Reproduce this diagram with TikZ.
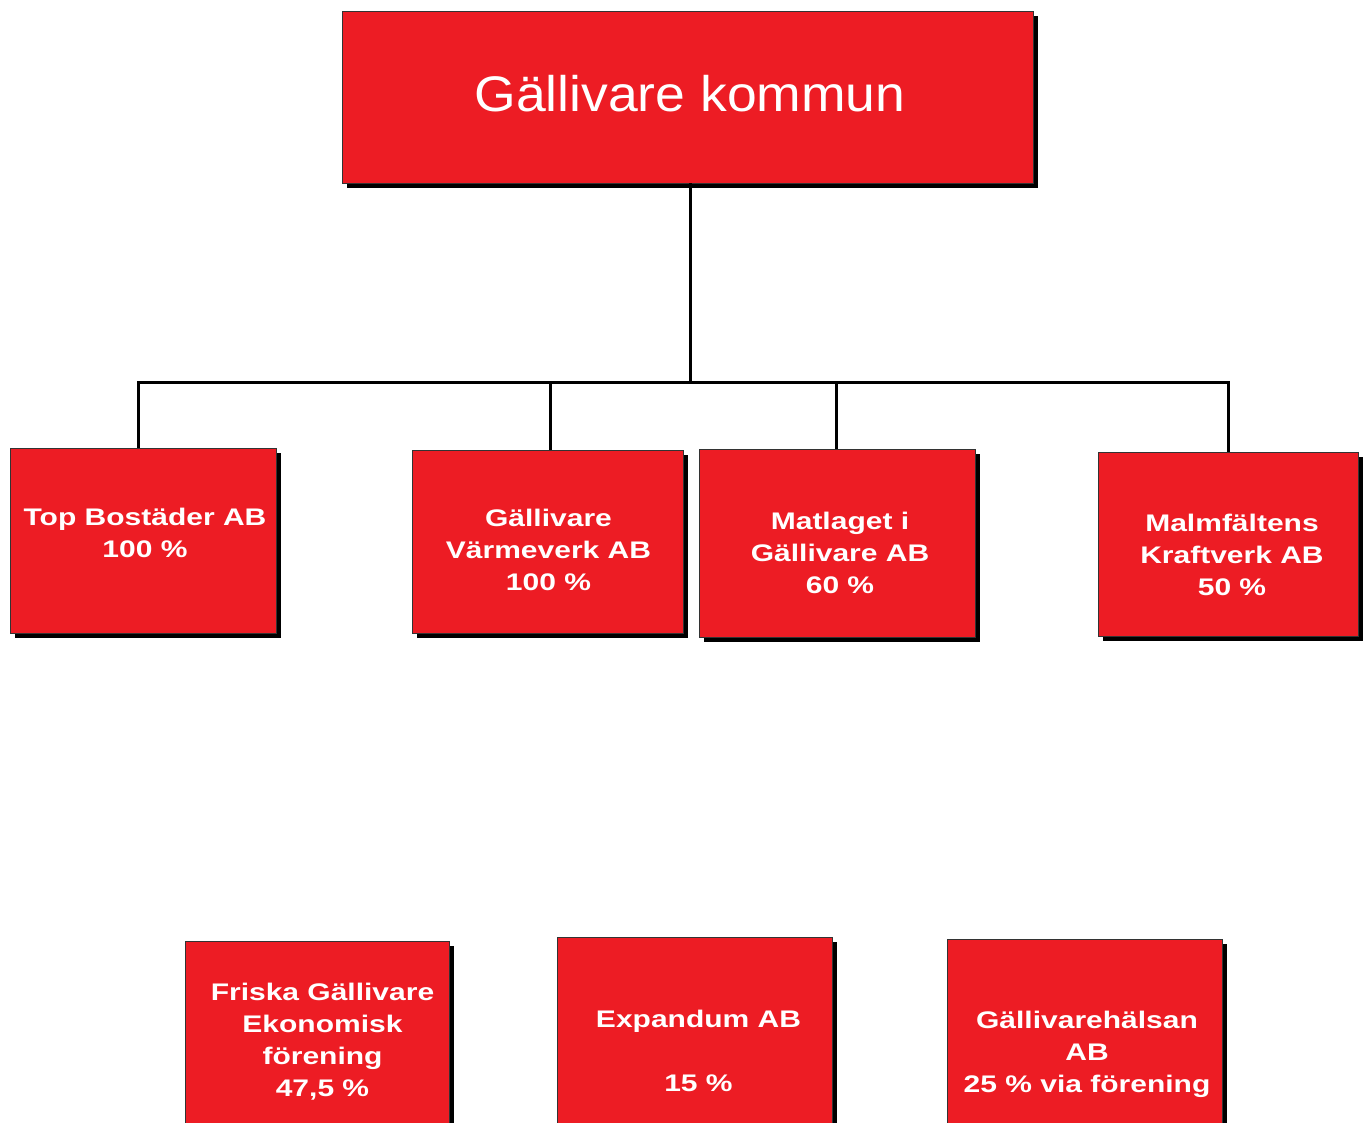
\documentclass[tikz,border=0pt]{standalone}
\usepackage{fontspec}
\setmainfont{Liberation Sans}
\newfontfamily\titlefont[FakeStretch=1.07]{Liberation Sans}
\newfontfamily\boxfont[FakeStretch=1.25]{Liberation Sans}
\usetikzlibrary{shadows}
\definecolor{boxred}{HTML}{ED1C24}
\tikzset{
	company/.style={draw=black!80, line width=1pt, fill=boxred, inner sep=0pt, outer sep=0pt,
		general shadow={fill=black, shadow xshift=5pt, shadow yshift=-5pt}},
	cname/.style={text=white, align=center, inner sep=0pt, font=\boxfont\bfseries\fontsize{24}{32}\selectfont},
	conn/.style={line width=3pt}
}
\begin{document}
\begin{tikzpicture}[x=1pt, y=-1pt]
	\useasboundingbox (0, 0) rectangle (1370, 1122);
	\node[company, minimum width=691pt, minimum height=172pt] (kommun) at (687.5, 97) {};
	\node[company, minimum width=266pt, minimum height=185pt] (top) at (143, 540.5) {};
	\node[company, minimum width=271pt, minimum height=183pt] (varme) at (547.5, 541.5) {};
	\node[company, minimum width=276pt, minimum height=188pt] (matlaget) at (837, 543) {};
	\node[company, minimum width=260pt, minimum height=184pt] (kraft) at (1228, 544) {};
	\node[company, minimum width=264pt, minimum height=198pt] (friska) at (317, 1040) {};
	\node[company, minimum width=275pt, minimum height=228pt] (expandum) at (694.5, 1051) {};
	\node[company, minimum width=275pt, minimum height=224pt] (halsan) at (1084.5, 1051) {};
	\node[cname, font=\titlefont\fontsize{50}{60}\selectfont] (kommun-t) at (690, 94) {Gällivare kommun};
	\node[cname] (top-t) at (145, 532.5) {Top Bostäder AB\\100 \%};
	\node[cname] (varme-t) at (548.5, 549.5) {Gällivare\\Värmeverk AB\\100 \%};
	\node[cname] (matlaget-t) at (840, 553) {Matlaget i\\Gällivare AB\\60 \%};
	\node[cname] (kraft-t) at (1232, 555) {Malmfältens\\Kraftverk AB\\50 \%};
	\node[cname] (friska-t) at (322.5, 1042) {Friska Gällivare\\Ekonomisk\\förening\\47,5 \%};
	\node[cname] (expandum-t) at (698.5, 1051) {Expandum AB\\[32pt]15 \%};
	\node[cname] (halsan-t) at (1087, 1054) {Gällivarehälsan\\AB\\25 \% via förening};
	\coordinate (bus) at (690, 382);
	\draw[conn] (bus |- kommun.south) -- (bus);
	\draw[conn] ([xshift=-5pt]top.north) |- (kraft.north |- bus) -- (kraft.north);
	\draw[conn] ([xshift=2.5pt]varme.north) -- ([xshift=2.5pt]varme.north |- bus);
	\draw[conn] ([xshift=-1pt]matlaget.north) -- ([xshift=-1pt]matlaget.north |- bus);
\end{tikzpicture}
\end{document}
